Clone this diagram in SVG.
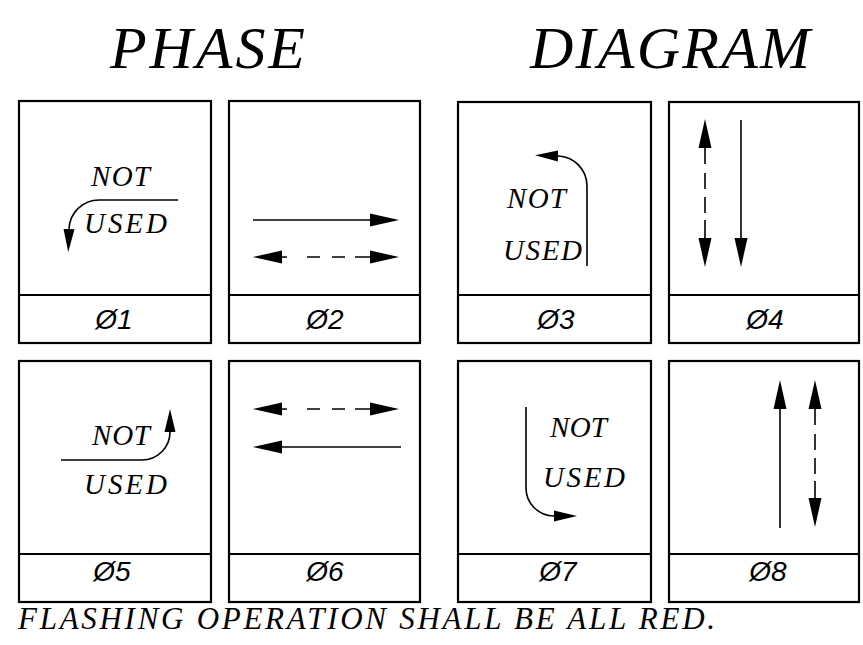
<svg xmlns="http://www.w3.org/2000/svg" width="863" height="645" viewBox="0 0 863 645">
<style>
.frame{fill:none;stroke:#000;stroke-width:2.2}
.div{stroke:#000;stroke-width:2.2}
.ln{fill:none;stroke:#000;stroke-width:1.6}
.dh{stroke-dasharray:5 20 13 12 13 10 30}
.dv{stroke-dasharray:16 9 16 8 16 7 30}
.title{font-family:"Liberation Serif",serif;font-style:italic;font-size:60px;fill:#000}
.nu{font-family:"Liberation Serif",serif;font-style:italic;font-size:29px;fill:#000}
.lab{font-family:"Liberation Sans",sans-serif;font-style:italic;font-size:28px;fill:#000;text-anchor:middle}
.foot{font-family:"Liberation Serif",serif;font-style:italic;font-size:31px;fill:#000}
</style>
<defs>
<marker id="ah" markerUnits="userSpaceOnUse" markerWidth="30" markerHeight="14" refX="0" refY="7" orient="auto-start-reverse" viewBox="0 0 30 14">
<path d="M0,0.5 L29,7 L0,13.5 z" fill="#000"/>
</marker>
<marker id="as" markerUnits="userSpaceOnUse" markerWidth="24" markerHeight="12" refX="0" refY="6" orient="auto" viewBox="0 0 24 12">
<path d="M0,0.5 L23,6 L0,11.5 z" fill="#000"/>
</marker>
</defs>
<rect width="863" height="645" fill="#fff"/>
<g id="title">
<text class="title" x="110" y="68" textLength="195">PHASE</text>
<text class="title" x="530" y="68" textLength="280">DIAGRAM</text>
</g>
<g id="phase1">
<rect class="frame" x="19" y="101" width="192" height="242"/>
<line class="div" x1="19" y1="295" x2="211" y2="295"/>
<text class="nu" x="91" y="186" textLength="59">NOT</text>
<text class="nu" x="84" y="233" textLength="83">USED</text>
<text class="lab" x="114" y="329">Ø1</text>
</g>
<g id="phase2">
<rect class="frame" x="229" y="101" width="191" height="242"/>
<line class="div" x1="229" y1="295" x2="420" y2="295"/>
<text class="lab" x="325" y="329">Ø2</text>
</g>
<g id="phase3">
<rect class="frame" x="458" y="102" width="193" height="241"/>
<line class="div" x1="458" y1="295" x2="651" y2="295"/>
<text class="nu" x="507" y="208" textLength="59">NOT</text>
<text class="nu" x="503" y="260" textLength="79">USED</text>
<text class="lab" x="556" y="329">Ø3</text>
</g>
<g id="phase4">
<rect class="frame" x="669" y="102" width="190" height="241"/>
<line class="div" x1="669" y1="295" x2="859" y2="295"/>
<text class="lab" x="765" y="329">Ø4</text>
</g>
<g id="phase5">
<rect class="frame" x="19" y="361" width="192" height="241"/>
<line class="div" x1="19" y1="554" x2="211" y2="554"/>
<text class="nu" x="92" y="445" textLength="58">NOT</text>
<text class="nu" x="84" y="494" textLength="83">USED</text>
<text class="lab" x="112" y="581">Ø5</text>
</g>
<g id="phase6">
<rect class="frame" x="229" y="361" width="191" height="241"/>
<line class="div" x1="229" y1="554" x2="420" y2="554"/>
<text class="lab" x="325" y="581">Ø6</text>
</g>
<g id="phase7">
<rect class="frame" x="458" y="361" width="193" height="241"/>
<line class="div" x1="458" y1="554" x2="651" y2="554"/>
<text class="nu" x="550" y="437" textLength="57">NOT</text>
<text class="nu" x="543" y="487" textLength="82">USED</text>
<text class="lab" x="558" y="581">Ø7</text>
</g>
<g id="phase8">
<rect class="frame" x="669" y="361" width="190" height="241"/>
<line class="div" x1="669" y1="554" x2="859" y2="554"/>
<text class="lab" x="768" y="581">Ø8</text>
</g>
<g id="connectors">
<path class="ln" d="M178,200 H99 A30 30 0 0 0 69,229" marker-end="url(#as)"/>
<path class="ln" d="M253,220 H370" marker-end="url(#ah)"/>
<path class="ln dh" d="M282,257 H370" marker-start="url(#ah)" marker-end="url(#ah)"/>
<path class="ln" d="M587,266 V186 A30 30 0 0 0 558,156" marker-end="url(#as)"/>
<path class="ln dv" d="M705,148 V238" marker-start="url(#ah)" marker-end="url(#ah)"/>
<path class="ln" d="M741,120 V238" marker-end="url(#ah)"/>
<path class="ln" d="M61,460 H142 A28 28 0 0 0 170,432" marker-end="url(#as)"/>
<path class="ln dh" d="M282,409 H370" marker-start="url(#ah)" marker-end="url(#ah)"/>
<path class="ln" d="M401,447 H282" marker-end="url(#ah)"/>
<path class="ln" d="M526,407 V488 A28 28 0 0 0 554,516" marker-end="url(#as)"/>
<path class="ln" d="M780,528 V409" marker-end="url(#ah)"/>
<path class="ln dv" d="M815,409 V498" marker-start="url(#ah)" marker-end="url(#ah)"/>
</g>
<g id="footnote">
<text class="foot" x="18" y="629" textLength="697">FLASHING OPERATION SHALL BE ALL RED.</text>
</g>
</svg>
